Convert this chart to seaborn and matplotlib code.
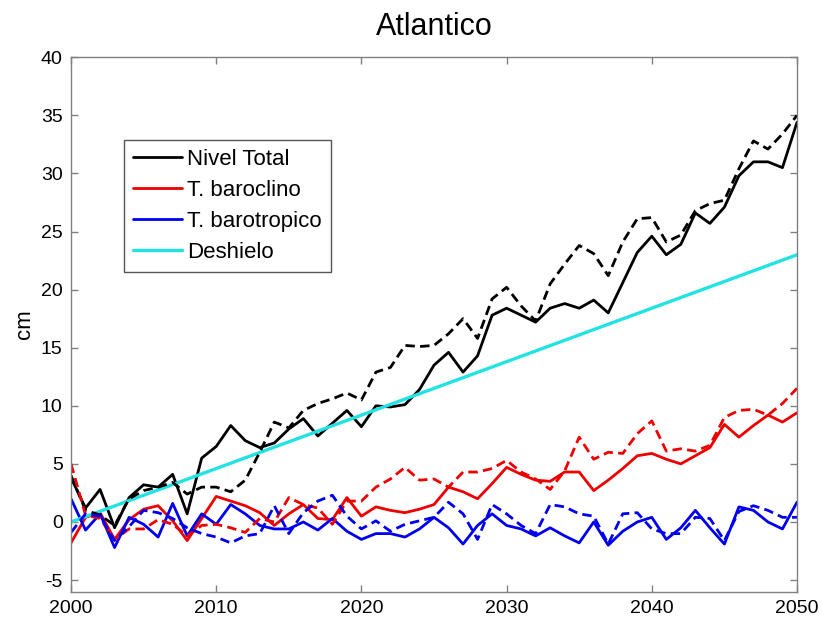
import matplotlib
matplotlib.use("Agg")
import matplotlib.pyplot as plt
import seaborn as sns
import pandas as pd

years = list(range(2000, 2051))

nivel_total = [3.8, 1.2, 2.8, -0.5, 2.1, 3.2, 3.0, 4.1, 0.7, 5.5,
               6.5, 8.3, 7.0, 6.4, 6.8, 8.0, 8.9, 7.4, 8.5, 9.6,
               8.2, 10.0, 9.9, 10.1, 11.4, 13.5, 14.6, 12.9, 14.3, 17.8,
               18.4, 17.8, 17.2, 18.4, 18.8, 18.4, 19.1, 18.0, 20.6, 23.2,
               24.6, 23.0, 23.9, 26.6, 25.7, 27.1, 29.8, 31.0, 31.0, 30.5,
               34.4]
nivel_total_2 = [4.0, 1.0, 0.6, -0.3, 2.0, 2.7, 3.0, 3.4, 2.4, 3.0,
                 3.0, 2.6, 3.6, 6.0, 8.6, 8.1, 9.6, 10.2, 10.6, 11.1,
                 10.5, 12.9, 13.3, 15.2, 15.1, 15.2, 16.2, 17.5, 15.8, 19.2,
                 20.2, 18.6, 17.3, 20.5, 22.2, 23.8, 23.1, 21.2, 24.1, 26.1,
                 26.2, 24.1, 24.7, 26.8, 27.4, 27.7, 30.4, 32.8, 32.1, 33.4,
                 35.0]
baroclino = [-1.8, 0.4, 0.8, -1.5, 0.2, 1.1, 1.4, 0.1, -1.6, 0.3,
             2.2, 1.8, 1.4, 0.8, -0.3, 0.7, 1.5, 0.3, 0.2, 2.1,
             0.5, 1.3, 1.0, 0.8, 1.1, 1.5, 3.0, 2.6, 2.0, 3.3,
             4.7, 4.1, 3.6, 3.5, 4.3, 4.3, 2.7, 3.6, 4.6, 5.7,
             5.9, 5.4, 5.0, 5.7, 6.4, 8.4, 7.3, 8.3, 9.2, 8.6,
             9.4]
baroclino_2 = [5.0, 0.6, 0.3, -1.5, -0.6, -0.6, 0.2, -0.2, -1.2, -0.3,
               -0.2, -0.5, -0.9, 0.3, 0.0, 2.1, 1.5, 1.2, -0.2, 1.8,
               1.8, 3.0, 3.7, 4.7, 3.6, 3.7, 3.0, 4.3, 4.3, 4.6,
               5.3, 4.3, 3.7, 2.8, 4.4, 7.3, 5.4, 6.0, 5.9, 7.6,
               8.7, 6.1, 6.3, 6.1, 6.6, 9.0, 9.6, 9.7, 9.2, 10.2,
               11.5]
barotropico = [2.0, -0.7, 0.7, -2.2, 0.4, -0.2, -1.3, 1.6, -1.2, 0.7,
               -0.2, 1.5, 0.7, -0.3, -0.6, -0.6, 0.0, -0.7, 0.3, -0.8,
               -1.5, -1.0, -1.0, -1.3, -0.6, 0.4, -0.5, -1.9, -0.3, 0.7,
               -0.3, -0.6, -1.2, -0.5, -1.2, -1.8, 0.0, -2.0, -0.8, 0.0,
               0.4, -1.5, -0.5, 1.0, -0.5, -1.9, 1.3, 1.0, 0.0, -0.6,
               1.7]
barotropico_2 = [-0.9, 0.7, 0.5, -1.6, -0.4, 1.0, 0.8, 0.3, -0.5, -1.0,
                 -1.3, -1.8, -1.2, -1.0, 1.4, -1.0, 0.8, 1.8, 2.3, 0.5,
                 -0.6, 0.1, -0.8, -0.2, 0.1, 0.4, 1.7, 0.7, -1.5, 1.5,
                 0.7, -0.3, -1.0, 1.5, 1.3, 0.7, 0.5, -1.9, 0.7, 0.8,
                 -0.6, -1.0, -1.0, 0.4, 0.3, -1.6, 0.9, 1.4, 1.0, 0.4,
                 0.4]
deshielo_years = [2000, 2050]
deshielo = [0.0, 23.0]

x_ticks = [2000, 2010, 2020, 2030, 2040, 2050]
y_ticks = [-5, 0, 5, 10, 15, 20, 25, 30, 35, 40]

sns.set_style("white")
plt.rcParams['font.family'] = ['Liberation Sans', 'DejaVu Sans']
plt.rcParams['text.color'] = 'black'
plt.rcParams['axes.labelcolor'] = 'black'

fig = plt.figure(figsize=(8.23, 6.24), dpi=100)
ax = fig.add_axes([0.0863, 0.0518, 0.8821, 0.8564])

df = pd.DataFrame({"year": years, "nt": nivel_total, "nt2": nivel_total_2,
                   "bc": baroclino, "bc2": baroclino_2,
                   "bt": barotropico, "bt2": barotropico_2})
dfd = pd.DataFrame({"year": deshielo_years, "d": deshielo})

lw = 2.0
dash = (0, (3.4, 1.9))
sns.lineplot(data=df, x="year", y="nt", color="black", lw=lw, label="Nivel Total", ax=ax)
sns.lineplot(data=df, x="year", y="bc", color="#ee0000", lw=lw, label="T. baroclino", ax=ax)
sns.lineplot(data=df, x="year", y="bt", color="#0000ee", lw=lw, label="T. barotropico", ax=ax)
sns.lineplot(data=dfd, x="year", y="d", color="#22e2e2", lw=2.4, label="Deshielo", ax=ax)
sns.lineplot(data=df, x="year", y="nt2", color="black", lw=lw, linestyle=dash, label="_nolegend_", ax=ax)
sns.lineplot(data=df, x="year", y="bc2", color="#ee0000", lw=lw, linestyle=dash, label="_nolegend_", ax=ax)
sns.lineplot(data=df, x="year", y="bt2", color="#0000ee", lw=lw, linestyle=dash, label="_nolegend_", ax=ax)

ax.set_xlim(2000, 2050)
ax.set_ylim(-6, 40)
ax.set_xticks(x_ticks)
ax.set_yticks(y_ticks)
ax.set_xticklabels([str(t) for t in x_ticks], fontsize=14)
ax.set_yticklabels([str(t) for t in y_ticks], fontsize=14)
ax.set_xlabel("")
ax.set_ylabel("cm", fontsize=16, labelpad=4)
ax.set_title("Atlantico", fontsize=22, pad=16, color="black")

for s in ax.spines.values():
    s.set_visible(True)
    s.set_color("#808080")
    s.set_linewidth(1.0)
ax.tick_params(direction="in", length=5, width=1, color="#808080", labelcolor="black",
               top=True, right=True, bottom=True, left=True, pad=6)

leg = ax.legend(loc="upper left", bbox_to_anchor=(0.073, 0.845), fontsize=16,
                frameon=True, fancybox=False, framealpha=1, edgecolor="#555555",
                handlelength=2.2, handletextpad=0.25, borderpad=0.4, labelspacing=0.45,
                borderaxespad=0)
leg.get_frame().set_linewidth(1.0)
for t in leg.get_texts():
    t.set_color("black")

fig.savefig("out.png", dpi=100)
